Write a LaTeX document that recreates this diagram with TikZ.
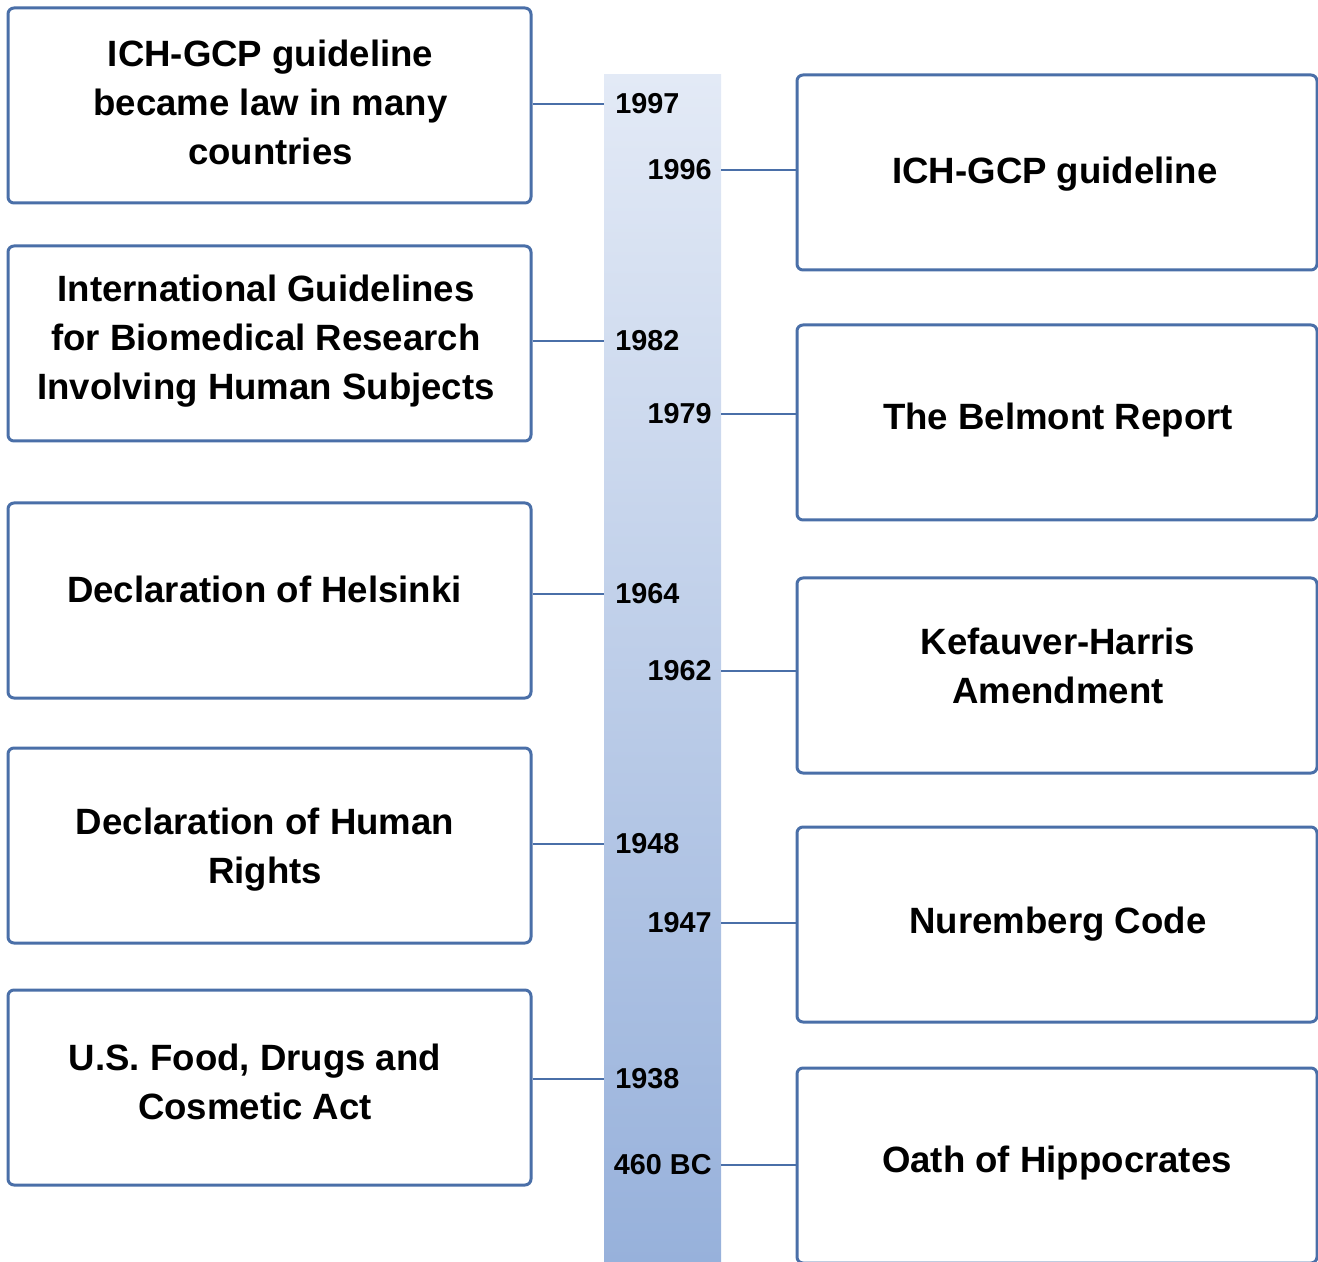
\documentclass[tikz,border=0pt]{standalone}
\usepackage{fontspec}
\setmainfont{Liberation Sans}
\usetikzlibrary{calc}
\definecolor{boxblue}{HTML}{4A6FA8}
\definecolor{bartop}{HTML}{E3EAF6}
\definecolor{barbottom}{HTML}{97B1DB}
\tikzset{event/.style={draw=boxblue, line width=1.5pt, rounded corners=3pt, fill=white, inner sep=0pt, minimum height=97.5pt},
  leftevent/.style={event, minimum width=261.5pt},
  rightevent/.style={event, minimum width=260pt},
  boxtext/.style={align=center, inner sep=0pt, font=\bfseries\fontsize{18.3pt}{24.5pt}\selectfont},
  yearl/.style={anchor=west, inner xsep=5.5pt, inner ysep=0pt, font=\bfseries\fontsize{14.4pt}{16pt}\selectfont},
  yearr/.style={yearl, anchor=east, inner xsep=4.5pt},
  link/.style={draw=boxblue, line width=1.2pt}}

\begin{document}
\begin{tikzpicture}[x=0.5pt, y=-0.5pt]
\useasboundingbox (0,0) rectangle (1318,1262);
\node (bar) at (662.5,668.5) [minimum width=58.5pt, minimum height=593.5pt, inner sep=0pt, top color=bartop, bottom color=barbottom] {};
% left column
\node (b1) at (269.5,105.5) [leftevent, label={[boxtext, shift={(0.5pt,1.7pt)}]center:ICH-GCP guideline\\became law in many\\countries}] {};
\node (b2) at (269.5,343.5) [leftevent, label={[boxtext, shift={(-1.75pt,1.2pt)}]center:International Guidelines\\for Biomedical Research\\Involving Human Subjects}] {};
\node (b3) at (269.5,600.5) [leftevent, label={[boxtext, shift={(-2.5pt,5.5pt)}]center:Declaration of Helsinki}] {};
\node (b4) at (269.5,845.5) [leftevent, label={[boxtext, shift={(-2.2pt,-2pt)}]center:Declaration of Human\\Rights}] {};
\node (b5) at (269.5,1087.5) [leftevent, label={[boxtext, shift={(-7.25pt,3pt)}]center:{U.S. Food, Drugs and\\Cosmetic Act}}] {};
% right column
\node (r1) at (1057,172.5) [rightevent, label={[boxtext, shift={(-1pt,-1pt)}]center:ICH-GCP guideline}] {};
\node (r2) at (1057,422.5) [rightevent, label={[boxtext, shift={(0.5pt,1pt)}]center:The Belmont Report}] {};
\node (r3) at (1057,675.5) [rightevent, label={[boxtext, shift={(0.5pt,4.75pt)}]center:Kefauver-Harris\\Amendment}] {};
\node (r4) at (1057,924.5) [rightevent, label={[boxtext, shift={(0.5pt,0pt)}]center:Nuremberg Code}] {};
\node (r5) at (1057,1165.5) [rightevent, label={[boxtext, shift={(0pt,1pt)}]center:Oath of Hippocrates}] {};
% years
\node (y1997) at (604,104) [yearl] {1997};
\node (y1982) at (604,341) [yearl] {1982};
\node (y1964) at (604,594) [yearl] {1964};
\node (y1948) at (604,844) [yearl] {1948};
\node (y1938) at (604,1079) [yearl] {1938};
\node (y1996) at (721,170) [yearr] {1996};
\node (y1979) at (721,414) [yearr] {1979};
\node (y1962) at (721,671) [yearr] {1962};
\node (y1947) at (721,923) [yearr] {1947};
\node (y460) at (721,1165) [yearr] {460 BC};
\draw[link] (b1.east |- y1997) -- (y1997.west) (b2.east |- y1982) -- (y1982.west)
  (b3.east |- y1964) -- (y1964.west) (b4.east |- y1948) -- (y1948.west)
  (b5.east |- y1938) -- (y1938.west);
\draw[link] (y1996.east) -- (r1.west |- y1996) (y1979.east) -- (r2.west |- y1979)
  (y1962.east) -- (r3.west |- y1962) (y1947.east) -- (r4.west |- y1947)
  (y460.east) -- (r5.west |- y460);
\end{tikzpicture}
\end{document}
